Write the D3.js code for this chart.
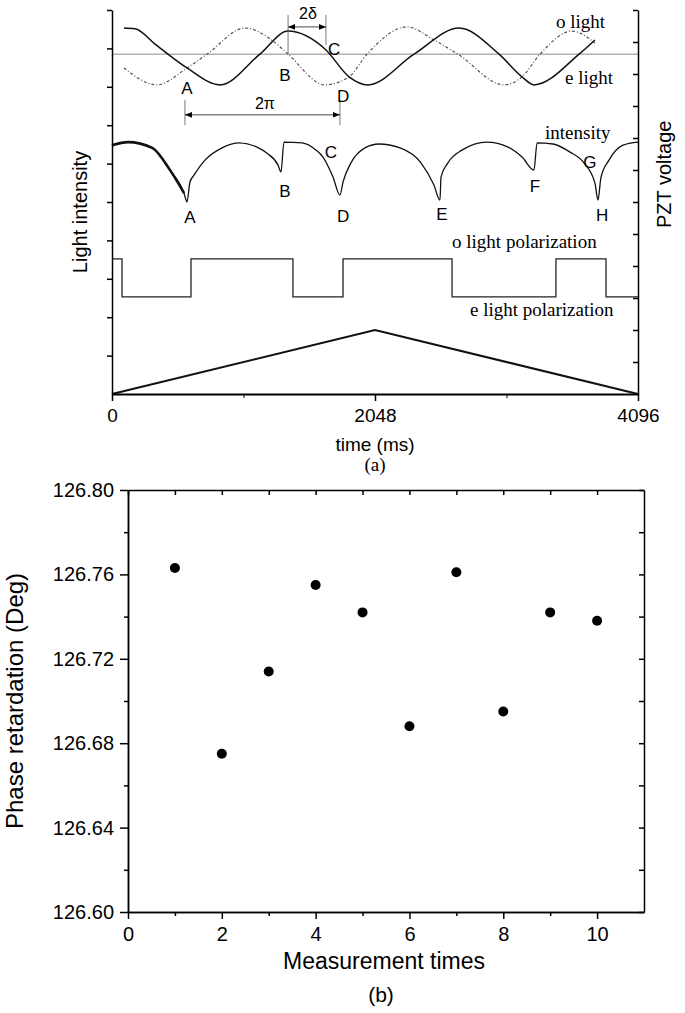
<!DOCTYPE html>
<html>
<head>
<meta charset="utf-8">
<script src="https://cdn.jsdelivr.net/npm/d3@7"></script>
<style>
  body { margin: 0; background: #fff; }
  svg { display: block; }
  text { font-family: "Liberation Sans", Arial, sans-serif; fill: #000; }
  .serif { font-family: "Liberation Serif", "Times New Roman", serif; }
  .axis path, .axis line { stroke: #000; }
</style>
</head>
<body>
<svg id="chart" width="685" height="1013"></svg>
<script>
(function() {
  'use strict';

  // ---------- panel (a) data : time in ms, light intensity in a.u., PZT in a.u. ----------
  var timeTicks = [0, 2048, 4096],
    timeMinor = [1024, 3072];

  var eLight = [[93, 9.53], [179, 9.51], [343, 9.09], [584, 8.49], [841, 8.05], [1152, 8.85],
    [1371, 9.45], [1666, 8.96], [1846, 8.26], [1993, 8.05], [2352, 8.85], [2702, 9.53],
    [3014, 8.85], [3193, 8.26], [3286, 8.05], [3637, 8.85], [3761, 9.22]];

  var oLight = [[93, 8.49], [350, 8.05], [584, 8.49], [740, 8.85], [1036, 9.53], [1262, 9.17],
    [1371, 8.85], [1659, 8.05], [1846, 8.26], [1986, 8.85], [2297, 9.56], [2507, 9.22],
    [2694, 8.85], [3053, 8.05], [3193, 8.26], [3333, 8.85], [3582, 9.45], [3761, 9.14]];

  var refLevel = 8.85;

  var intensity = [[0, 6.48], [125, 6.56], [313, 6.41], [452, 5.83], [561, 5.23], [584, 5.00],
    [607, 5.52], [639, 5.70], [724, 6.09], [857, 6.41], [989, 6.54], [1129, 6.43], [1207, 6.27], [1293, 5.96], [1316, 5.78],
    [1339, 6.56], [1480, 6.54], [1589, 6.35], [1643, 6.17], [1721, 5.65], [1775, 5.18],
    [1799, 5.52], [1861, 6.02], [1970, 6.41], [2079, 6.51], [2243, 6.41], [2406, 6.02], [2507, 5.44], [2554, 5.05],
    [2562, 5.65], [2616, 6.02], [2725, 6.35], [2920, 6.56], [3084, 6.43], [3193, 6.17], [3286, 5.83],
    [3310, 6.54], [3434, 6.51], [3567, 6.30], [3675, 6.02], [3761, 5.49], [3784, 5.05],
    [3808, 5.65], [3870, 6.09], [3979, 6.48], [4096, 6.56]];

  var polarization = [[0, 3.52], [78, 2.53], [615, 3.52], [1409, 2.53], [1799, 3.52],
    [2648, 2.53], [3457, 3.52], [3847, 2.53], [4096, 2.53]];

  var pztVoltage = [[0, 0], [2048, 2.0], [4096, 0]];

  var waveLetters = [['A', 584, 7.97], ['B', 1347, 8.31], ['C', 1729, 8.98], ['D', 1799, 7.76]];
  var intensityLetters = [['A', 607, 4.61], ['B', 1347, 5.29], ['C', 1705, 6.30], ['D', 1799, 4.64],
    ['E', 2570, 4.69], ['F', 3294, 5.42], ['G', 3722, 6.04], ['H', 3816, 4.66]];
  var serifLabels = [['o light', 3457, 9.53], ['e light', 3528, 8.07], ['intensity', 3372, 6.64],
    ['o light polarization', 2648, 3.80], ['e light polarization', 2788, 2.03]];

  // ---------- panel (b) data ----------
  var measurement = [1, 2, 3, 4, 5, 6, 7, 8, 9, 10],
    retardation = [126.763, 126.675, 126.714, 126.755, 126.742, 126.688, 126.761, 126.695, 126.742, 126.738];
  var xTicksB = [0, 2, 4, 6, 8, 10],
    xMinorB = [1, 3, 5, 7, 9],
    yTicksB = [126.60, 126.64, 126.68, 126.72, 126.76, 126.80],
    yMinorB = [126.62, 126.66, 126.70, 126.74, 126.78];

  var svg = d3.select('#chart');

  svg.append('defs').append('marker')
    .attr('id', 'arr')
    .attr('viewBox', '0 0 10 10')
    .attr('refX', 10).attr('refY', 5)
    .attr('markerWidth', 7).attr('markerHeight', 7)
    .attr('markerUnits', 'userSpaceOnUse')
    .attr('orient', 'auto-start-reverse')
    .append('path').attr('d', 'M0,1L10,5L0,9Z').attr('fill', '#000');

  //----------------------- panel (a) ---------------------------
  var xA = d3.scaleLinear().domain([0, 4096]).range([112, 638]),
    yL = d3.scaleLinear().domain([0, 10]).range([394, 10]),
    yR = d3.scaleLinear().domain([0, 12]).range([394, 10]);

  var gA = svg.append('g');

  var lineL = d3.line()
    .x(function(d) {return xA(d[0]);})
    .y(function(d) {return yL(d[1]);})
    .curve(d3.curveMonotoneX);

  // reference level
  gA.append('line')
    .attr('x1', xA(0)).attr('x2', xA(4096))
    .attr('y1', yL(refLevel)).attr('y2', yL(refLevel))
    .attr('stroke', '#8a8a8a').attr('stroke-width', 1);

  gA.append('path')
    .datum(oLight)
    .attr('d', lineL)
    .attr('fill', 'none').attr('stroke', '#555')
    .attr('stroke-width', 1.2).attr('stroke-dasharray', '3,2,1,2');

  gA.append('path')
    .datum(eLight)
    .attr('d', lineL)
    .attr('fill', 'none').attr('stroke', '#111').attr('stroke-width', 1.5);

  gA.append('path')
    .datum(intensity)
    .attr('d', lineL)
    .attr('fill', 'none').attr('stroke', '#111').attr('stroke-width', 1.3);

  // noisy thick start of the intensity trace
  gA.append('path')
    .datum(intensity.slice(0, 5))
    .attr('d', lineL)
    .attr('fill', 'none').attr('stroke', '#111').attr('stroke-width', 2.6);

  gA.append('path')
    .datum(polarization)
    .attr('d', d3.line()
      .x(function(d) {return xA(d[0]);})
      .y(function(d) {return yL(d[1]);})
      .curve(d3.curveStepAfter))
    .attr('fill', 'none').attr('stroke', '#222').attr('stroke-width', 1.3);

  gA.append('path')
    .datum(pztVoltage)
    .attr('d', d3.line()
      .x(function(d) {return xA(d[0]);})
      .y(function(d) {return yR(d[1]);}))
    .attr('fill', 'none').attr('stroke', '#111').attr('stroke-width', 2);

  // dimension marks 2δ and 2π
  var dims = [
    {t1: 1371, t2: 1666, top1: 9.87, bot1: 8.85, top2: 9.87, bot2: 9.09, at: 9.56},
    {t1: 568, t2: 1775, top1: 7.66, bot1: 7.0, top2: 7.66, bot2: 7.0, at: 7.27}
  ];
  dims.forEach(function(d) {
    gA.append('line').attr('x1', xA(d.t1)).attr('x2', xA(d.t1))
      .attr('y1', yL(d.top1)).attr('y2', yL(d.bot1)).attr('stroke', '#555').attr('stroke-width', 0.8);
    gA.append('line').attr('x1', xA(d.t2)).attr('x2', xA(d.t2))
      .attr('y1', yL(d.top2)).attr('y2', yL(d.bot2)).attr('stroke', '#555').attr('stroke-width', 0.8);
    gA.append('line').attr('x1', xA(d.t1)).attr('x2', xA(d.t2))
      .attr('y1', yL(d.at)).attr('y2', yL(d.at))
      .attr('stroke', '#333').attr('stroke-width', 0.9)
      .attr('marker-start', 'url(#arr)').attr('marker-end', 'url(#arr)');
  });
  gA.append('text').attr('x', xA(1526)).attr('y', yL(9.90)).attr('dy', '0.35em')
    .attr('text-anchor', 'middle').style('font-size', '16px').text('2\u03b4');
  gA.append('text').attr('x', xA(1191)).attr('y', yL(7.58)).attr('dy', '0.35em')
    .attr('text-anchor', 'middle').style('font-size', '16px').text('2\u03c0');

  gA.selectAll('text.wl')
    .data(waveLetters.concat(intensityLetters))
    .enter().append('text')
    .attr('class', 'wl')
    .attr('x', function(d) {return xA(d[1]);})
    .attr('y', function(d) {return yL(d[2]);})
    .attr('dy', '0.35em')
    .attr('text-anchor', 'middle')
    .style('font-size', '17px')
    .text(function(d) {return d[0];});

  gA.selectAll('text.sl')
    .data(serifLabels)
    .enter().append('text')
    .attr('class', 'sl serif')
    .attr('x', function(d) {return xA(d[1]);})
    .attr('y', function(d) {return yL(d[2]);})
    .style('font-size', '19px')
    .text(function(d) {return d[0];});

  // axes (a)
  var axA = gA.append('g').attr('class', 'axis').attr('transform', 'translate(0,394)');
  axA.call(d3.axisBottom(xA).tickValues(timeTicks).tickSize(7).tickSizeOuter(0).tickPadding(8)
    .tickFormat(d3.format('d')));
  axA.select('.domain').attr('stroke-width', 2.2);
  axA.selectAll('.tick line').attr('stroke-width', 1.5);
  axA.selectAll('text').style('font-size', '19px');
  gA.append('g').attr('class', 'axis').attr('transform', 'translate(0,394)')
    .call(d3.axisBottom(xA).tickValues(timeMinor).tickSize(4).tickSizeOuter(0).tickFormat(''))
    .select('.domain').remove();

  gA.append('g').attr('class', 'axis').attr('transform', 'translate(112,0)')
    .call(d3.axisLeft(yL).tickValues(d3.range(1, 11)).tickSize(5).tickSizeOuter(0).tickFormat(''))
    .selectAll('path,line').attr('stroke-width', 1.5);

  gA.append('g').attr('class', 'axis').attr('transform', 'translate(638,0)')
    .call(d3.axisRight(yR).tickValues(d3.range(1, 13)).tickSize(-5).tickSizeOuter(0).tickFormat(''))
    .selectAll('path,line').attr('stroke-width', 1.5);

  gA.append('text').attr('x', xA(2048)).attr('y', 451)
    .attr('text-anchor', 'middle').style('font-size', '19px').text('time (ms)');
  gA.append('text').attr('class', 'serif').attr('x', xA(2048)).attr('y', 471)
    .attr('text-anchor', 'middle').style('font-size', '19px').text('(a)');

  gA.append('text').attr('transform', 'translate(87,212) rotate(-90)')
    .attr('text-anchor', 'middle').style('font-size', '20px').text('Light intensity');
  gA.append('text').attr('transform', 'translate(671,228) rotate(-90)')
    .attr('text-anchor', 'start').style('font-size', '20px').text('PZT voltage');

  //----------------------- panel (b) ---------------------------
  var xB = d3.scaleLinear().domain([0, 11]).range([128, 644]),
    yB = d3.scaleLinear().domain([126.60, 126.80]).range([912, 490]);

  var gB = svg.append('g');

  function styleAxis(sel) {
    sel.attr('class', 'axis');
    sel.selectAll('path,line').attr('stroke-width', 1.5);
    sel.selectAll('text').style('font-size', '20px');
  }

  gB.append('g').attr('transform', 'translate(0,912)')
    .call(d3.axisBottom(xB).tickValues(xTicksB).tickSize(7).tickSizeOuter(0).tickPadding(8))
    .call(styleAxis);
  gB.append('g').attr('transform', 'translate(0,912)')
    .call(d3.axisBottom(xB).tickValues(xMinorB).tickSize(4).tickSizeOuter(0).tickFormat(''))
    .call(styleAxis);
  gB.append('g').attr('transform', 'translate(0,490)')
    .call(d3.axisTop(xB).tickValues(xTicksB.concat(xMinorB)).tickSize(-5).tickSizeOuter(0).tickFormat(''))
    .call(styleAxis);

  gB.append('g').attr('transform', 'translate(128,0)')
    .call(d3.axisLeft(yB).tickValues(yTicksB).tickSize(8).tickSizeOuter(0).tickPadding(6)
      .tickFormat(d3.format('.2f')))
    .call(styleAxis);
  gB.append('g').attr('transform', 'translate(128,0)')
    .call(d3.axisLeft(yB).tickValues(yMinorB).tickSize(4).tickSizeOuter(0).tickFormat(''))
    .call(styleAxis);
  gB.append('g').attr('transform', 'translate(644,0)')
    .call(d3.axisRight(yB).tickValues(yTicksB.concat(yMinorB)).tickSize(-5).tickSizeOuter(0).tickFormat(''))
    .call(styleAxis);

  gB.selectAll('circle')
    .data(measurement)
    .enter().append('circle')
    .attr('cx', function(d) {return xB(d);})
    .attr('cy', function(d, i) {return yB(retardation[i]);})
    .attr('r', 5)
    .attr('fill', '#000');

  gB.append('text').attr('x', 384).attr('y', 969)
    .attr('text-anchor', 'middle').style('font-size', '23px').text('Measurement times');
  gB.append('text').attr('x', 381).attr('y', 1002)
    .attr('text-anchor', 'middle').style('font-size', '21px').text('(b)');
  gB.append('text').attr('transform', 'translate(23,' + yB(126.70) + ') rotate(-90)')
    .attr('text-anchor', 'middle').style('font-size', '24px').text('Phase retardation (Deg)');
})();
</script>
</body>
</html>
